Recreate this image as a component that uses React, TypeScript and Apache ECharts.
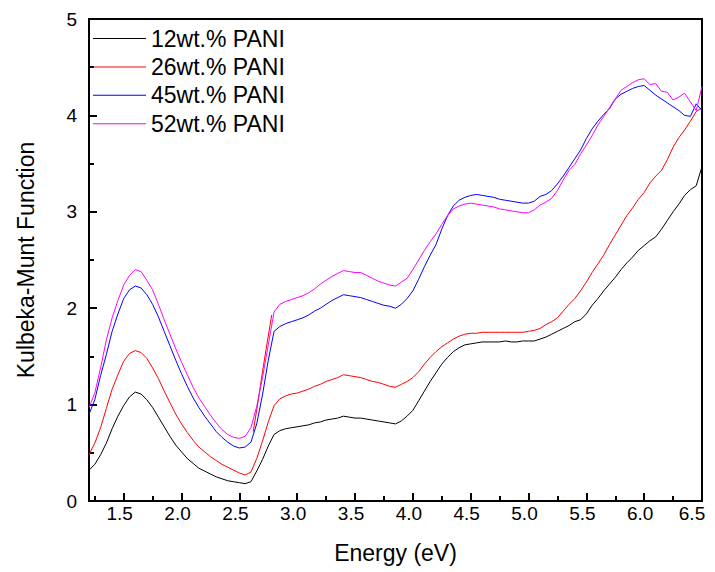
import React, { useEffect, useRef } from "react";
import * as echarts from "echarts";

// Photon energy (eV)
const energy = [
  1.20, 1.25, 1.30, 1.35, 1.40, 1.45, 1.50, 1.55, 1.60, 1.65,
  1.70, 1.75, 1.80, 1.85, 1.90, 1.95, 2.00, 2.05, 2.10, 2.15,
  2.20, 2.25, 2.30, 2.35, 2.40, 2.45, 2.50, 2.55, 2.60, 2.65,
  2.70, 2.75, 2.80, 2.85, 2.90, 2.95, 3.00, 3.05, 3.10, 3.15,
  3.20, 3.25, 3.30, 3.35, 3.40, 3.45, 3.50, 3.55, 3.60, 3.65,
  3.70, 3.75, 3.80, 3.85, 3.90, 3.95, 4.00, 4.05, 4.10, 4.15,
  4.20, 4.25, 4.30, 4.35, 4.40, 4.45, 4.50, 4.55, 4.60, 4.65,
  4.70, 4.75, 4.80, 4.85, 4.90, 4.95, 5.00, 5.05, 5.10, 5.15,
  5.20, 5.25, 5.30, 5.35, 5.40, 5.45, 5.50, 5.55, 5.60, 5.65,
  5.70, 5.75, 5.80, 5.85, 5.90, 5.95, 6.00, 6.05, 6.10, 6.15,
  6.20, 6.25, 6.30, 6.35, 6.40, 6.45, 6.50,
];

// Kubelka-Munk function for each PANI loading
const pani12 = [
  0.32, 0.38, 0.48, 0.60, 0.75, 0.88, 0.99, 1.08, 1.13, 1.11,
  1.05, 0.97, 0.87, 0.77, 0.67, 0.58, 0.51, 0.44, 0.39, 0.34,
  0.31, 0.28, 0.25, 0.23, 0.21, 0.20, 0.19, 0.18, 0.20, 0.31,
  0.43, 0.57, 0.69, 0.73, 0.75, 0.76, 0.77, 0.78, 0.79, 0.81,
  0.82, 0.84, 0.85, 0.86, 0.88, 0.87, 0.86, 0.86, 0.85, 0.84,
  0.83, 0.82, 0.81, 0.80, 0.83, 0.88, 0.94, 1.04, 1.14, 1.24,
  1.33, 1.42, 1.49, 1.55, 1.59, 1.62, 1.63, 1.64, 1.65, 1.65,
  1.65, 1.65, 1.66, 1.65, 1.65, 1.66, 1.66, 1.66, 1.68, 1.70,
  1.73, 1.76, 1.79, 1.82, 1.86, 1.88, 1.94, 2.03, 2.10, 2.18,
  2.25, 2.32, 2.40, 2.47, 2.53, 2.60, 2.65, 2.70, 2.74, 2.82,
  2.91, 3.00, 3.08, 3.17, 3.23, 3.27, 3.47,
];

const pani26 = [
  0.48, 0.60, 0.76, 0.96, 1.16, 1.31, 1.45, 1.53, 1.56, 1.54,
  1.48, 1.38, 1.27, 1.14, 1.02, 0.90, 0.80, 0.71, 0.63, 0.56,
  0.51, 0.46, 0.42, 0.38, 0.35, 0.32, 0.29, 0.27, 0.30, 0.44,
  0.62, 0.82, 0.99, 1.06, 1.09, 1.11, 1.12, 1.14, 1.16, 1.19,
  1.21, 1.24, 1.26, 1.28, 1.31, 1.30, 1.29, 1.28, 1.26, 1.24,
  1.23, 1.21, 1.19, 1.18, 1.21, 1.24, 1.28, 1.34, 1.42, 1.49,
  1.55, 1.60, 1.64, 1.68, 1.71, 1.73, 1.74, 1.74, 1.75, 1.75,
  1.75, 1.75, 1.75, 1.75, 1.75, 1.75, 1.76, 1.77, 1.79, 1.83,
  1.86, 1.90, 1.97, 2.04, 2.10, 2.18, 2.27, 2.37, 2.46, 2.55,
  2.66, 2.76, 2.86, 2.96, 3.04, 3.13, 3.20, 3.30, 3.37, 3.43,
  3.54, 3.67, 3.77, 3.85, 3.94, 4.04, 4.08,
];

const pani45 = [
  0.90, 1.05, 1.30, 1.52, 1.76, 1.94, 2.10, 2.19, 2.23, 2.21,
  2.14, 2.04, 1.91, 1.76, 1.61, 1.46, 1.32, 1.19, 1.07, 0.97,
  0.88, 0.80, 0.72, 0.66, 0.61, 0.57, 0.55, 0.56, 0.61, 0.80,
  1.10, 1.46, 1.76, 1.81, 1.84, 1.86, 1.88, 1.90, 1.93, 1.97,
  2.00, 2.04, 2.08, 2.11, 2.14, 2.13, 2.12, 2.11, 2.09, 2.07,
  2.05, 2.03, 2.02, 2.00, 2.04, 2.10, 2.18, 2.30, 2.43, 2.55,
  2.66, 2.82, 2.96, 3.06, 3.12, 3.15, 3.17, 3.18, 3.17, 3.16,
  3.15, 3.13, 3.12, 3.11, 3.10, 3.09, 3.09, 3.11, 3.16, 3.18,
  3.22, 3.29, 3.37, 3.46, 3.55, 3.64, 3.76, 3.86, 3.94, 4.01,
  4.07, 4.17, 4.22, 4.25, 4.28, 4.30, 4.31, 4.26, 4.21, 4.17,
  4.13, 4.09, 4.05, 4.00, 3.99, 4.12, 4.05,
];

const pani52 = [
  0.97, 1.12, 1.38, 1.67, 1.90, 2.08, 2.24, 2.34, 2.40, 2.38,
  2.29, 2.19, 2.04, 1.88, 1.73, 1.58, 1.44, 1.31, 1.18, 1.07,
  0.98, 0.89, 0.81, 0.74, 0.69, 0.66, 0.65, 0.67, 0.76, 0.98,
  1.28, 1.62, 1.96, 2.04, 2.07, 2.09, 2.11, 2.13, 2.16, 2.20,
  2.25, 2.29, 2.33, 2.36, 2.39, 2.38, 2.37, 2.37, 2.34, 2.31,
  2.28, 2.26, 2.24, 2.23, 2.27, 2.31, 2.40, 2.50, 2.60, 2.69,
  2.77, 2.87, 2.96, 3.03, 3.06, 3.08, 3.09, 3.08, 3.07, 3.06,
  3.05, 3.03, 3.02, 3.01, 3.00, 2.99, 2.99, 3.02, 3.07, 3.10,
  3.14, 3.22, 3.33, 3.43, 3.49, 3.60, 3.69, 3.79, 3.90, 3.99,
  4.08, 4.17, 4.26, 4.30, 4.34, 4.37, 4.38, 4.32, 4.33, 4.25,
  4.24, 4.16, 4.19, 4.23, 4.14, 4.05, 4.30,
];

// Short red stroke on the absorption edge
const edgeEnergy = [2.62, 2.66, 2.70, 2.74, 2.78];
const edgeValues = [0.72, 1.02, 1.34, 1.64, 1.93];

const seriesNames = ["12wt.% PANI", "26wt.% PANI", "45wt.% PANI", "52wt.% PANI"];
const seriesColors = ["#000000", "#ff0000", "#0000ff", "#ff00ff"];

const xMajorTicks = [1.5, 2.0, 2.5, 3.0, 3.5, 4.0, 4.5, 5.0, 5.5, 6.0, 6.5];
const xMinorTicks = [1.25, 1.75, 2.25, 2.75, 3.25, 3.75, 4.25, 4.75, 5.25, 5.75, 6.25];

const FONT = "'Liberation Sans', Arial, sans-serif";

export default function App() {
  const ref = useRef<HTMLDivElement>(null);

  useEffect(() => {
    if (!ref.current) return;
    const chart = echarts.init(ref.current, null, { renderer: "svg" });
    const toPairs = (xs: number[], ys: number[]) => xs.map((x, i) => [x, ys[i]]);
    const tickLine = { color: "#000", width: 2 };
    const values = [pani12, pani26, pani45, pani52];
    const lastTick = xMajorTicks[xMajorTicks.length - 1];

    const lineSeries: any[] = seriesNames.map((name, i) => ({
      name,
      type: "line",
      xAxisIndex: 0,
      data: toPairs(energy, values[i]),
      symbol: "none",
      lineStyle: { color: seriesColors[i], width: 1 },
      itemStyle: { color: seriesColors[i] },
    }));
    lineSeries.push({
      name: "26wt.% PANI edge",
      type: "line",
      xAxisIndex: 0,
      data: toPairs(edgeEnergy, edgeValues),
      symbol: "none",
      lineStyle: { color: seriesColors[1], width: 1 },
      itemStyle: { color: seriesColors[1] },
      z: 1,
    });

    const labelText = { color: "#000", fontSize: 19, fontFamily: FONT };

    chart.setOption({
      animation: false,
      backgroundColor: "#ffffff",
      color: seriesColors,
      grid: {
        left: 89,
        right: 13,
        top: 19,
        bottom: 71,
        show: true,
        borderColor: "#000",
        borderWidth: 2,
        backgroundColor: "transparent",
      },
      legend: {
        data: seriesNames.map((name, i) => ({
          name,
          icon: "rect",
          itemStyle: { color: seriesColors[i], borderWidth: 0 },
        })),
        orient: "vertical",
        left: 88,
        top: 22,
        itemWidth: 53,
        itemHeight: 1,
        itemGap: 5.4,
        textStyle: { fontSize: 23, fontFamily: FONT, color: "#000", lineHeight: 23 },
      },
      xAxis: [
        {
          type: "value",
          min: 1.2,
          max: 6.5,
          axisLine: { show: true, onZero: false, lineStyle: tickLine },
          axisTick: { show: true, inside: true, length: 8, lineStyle: tickLine, customValues: xMajorTicks },
          axisLabel: {
            customValues: xMajorTicks,
            formatter: (v: number) =>
              v === lastTick ? `{end|${v.toFixed(1)}}` : `{tick|${v.toFixed(1)}}`,
            rich: {
              tick: { ...labelText, padding: [0, 8, 0, 0] },
              end: { ...labelText, padding: [0, 20, 0, 0] },
            },
            ...labelText,
            margin: 3,
          },
          splitLine: { show: false },
          name: "Energy (eV)",
          nameLocation: "middle",
          nameGap: 40,
          nameTextStyle: { fontSize: 23, fontFamily: FONT, color: "#000" },
        },
        {
          type: "value",
          min: 1.2,
          max: 6.5,
          position: "bottom",
          axisLine: { show: false, onZero: false },
          axisTick: { show: true, inside: true, length: 5, lineStyle: tickLine, customValues: xMinorTicks },
          axisLabel: { show: false },
          splitLine: { show: false },
        },
      ],
      yAxis: {
        type: "value",
        min: 0,
        max: 5,
        interval: 1,
        axisLine: { show: true, onZero: false, lineStyle: tickLine },
        axisTick: { show: true, inside: true, length: 8, lineStyle: tickLine },
        minorTick: { show: true, splitNumber: 2, length: 5, lineStyle: tickLine },
        axisLabel: { ...labelText, margin: 12 },
        splitLine: { show: false },
        minorSplitLine: { show: false },
        name: "Kulbeka-Munt Function",
        nameLocation: "middle",
        nameGap: 52,
        nameRotate: 90,
        nameTextStyle: { fontSize: 23, fontFamily: FONT, color: "#000" },
      },
      series: lineSeries,
    });

    return () => chart.dispose();
  }, []);

  return (
    <div
      ref={ref}
      style={{ position: "absolute", left: 0, top: 0, width: 715, height: 572 }}
    />
  );
}
